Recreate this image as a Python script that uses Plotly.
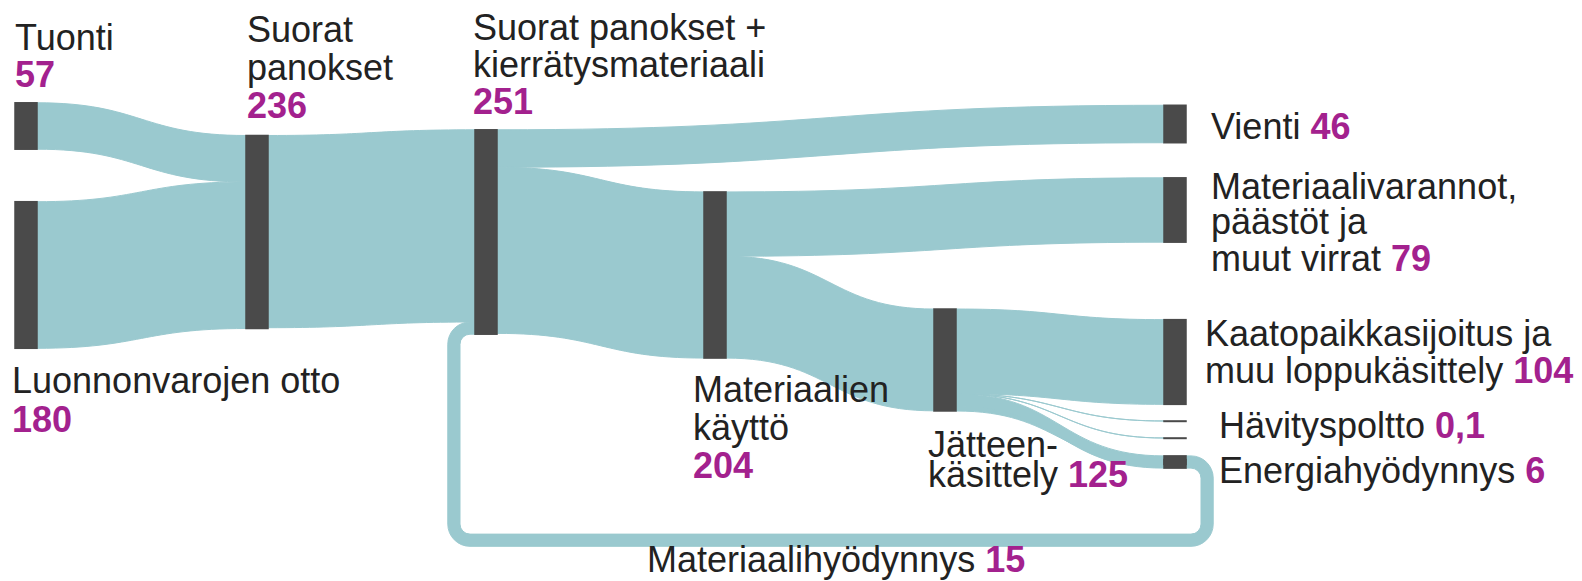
import plotly.graph_objects as go

W, H = 1582, 581
HD = 540  # sankey domain height in px (from the top)

# ---- data ----
node_names = [
    "Tuonti", "Luonnonvarojen otto", "Suorat panokset",
    "Suorat panokset + kierrätysmateriaali", "Materiaalien käyttö",
    "Jätteenkäsittely", "Vienti", "Materiaalivarannot, päästöt ja muut virrat",
    "Kaatopaikkasijoitus ja muu loppukäsittely", "Hävityspoltto", "",
    "Energiahyödynnys", "Materiaalihyödynnys",
]

link_source = [0, 1, 2, 3, 3, 4, 4, 5, 5, 5, 5, 5, 12]
link_target = [2, 2, 3, 6, 4, 7, 5, 8, 9, 10, 11, 12, 3]
link_value = [57, 180, 236, 46, 204, 79, 125, 104, 0.1, 0.1, 6, 15, 15]

# ---- layout (node centres in pixels) ----
node_px_x = [26, 26, 257, 486, 715, 945, 1175, 1175, 1175, 1175, 1175, 1175, 1175]
node_px_y = [126, 275, 232, 232, 275, 360, 124, 210, 362, 421, 438, 462, 462]
OFF_X, OFF_Y = 8, 8

NUM = "#a3218e"
TXT = "#222222"
FONT = "Liberation Sans, Arial, sans-serif"
FS = 36


def num(v):
    return f"<b><span style='color:{NUM}'>{v}</span></b>"


# label lines: (text, left px, baseline px)
label_lines = [
    ("Tuonti", 15, 50), (num("57"), 15, 87),
    ("Suorat", 247, 43), ("panokset", 247, 80), (num("236"), 247, 118),
    ("Suorat panokset +", 473, 40), ("kierrätysmateriaali", 473, 78), (num("251"), 473, 115),
    ("Luonnonvarojen otto", 12, 393), (num("180"), 12, 432),
    ("Materiaalien", 693, 402), ("käyttö", 693, 440), (num("204"), 693, 478),
    ("Jätteen-", 928, 457), ("käsittely " + num("125"), 928, 487),
    ("Vienti " + num("46"), 1211, 139),
    ("Materiaalivarannot,", 1211, 199), ("päästöt ja", 1211, 235),
    ("muut virrat " + num("79"), 1211, 271),
    ("Kaatopaikkasijoitus ja", 1205, 346), ("muu loppukäsittely " + num("104"), 1205, 383),
    ("Hävityspoltto " + num("0,1"), 1219, 438),
    ("Energiahyödynnys " + num("6"), 1219, 483),
    ("Materiaalihyödynnys " + num("15"), 647, 572),
]

fig = go.Figure(go.Sankey(
    arrangement="fixed",
    domain=dict(x=[0, 1], y=[1 - HD / H, 1]),
    node=dict(
        label=node_names,
        x=[max((v - OFF_X) / W, 0.001) for v in node_px_x],
        y=[max((v - OFF_Y) / HD, 0.001) for v in node_px_y],
        pad=26,
        thickness=22,
        color="#4a4a4a",
        line=dict(width=1.5, color="#4a4a4a"),
    ),
    link=dict(
        source=link_source,
        target=link_target,
        value=link_value,
        color="rgba(154,201,207,1)",
        line=dict(color="rgba(154,201,207,1)", width=1),
    ),
    textfont=dict(color="rgba(0,0,0,0)", size=1),
))

for text, lx, base in label_lines:
    fig.add_annotation(
        text=text, x=(lx - 10) / W, y=1 - (base - 21) / H,
        xref="paper", yref="paper", xanchor="left", yanchor="middle",
        showarrow=False, align="left",
        font=dict(family=FONT, size=FS, color=TXT),
    )

fig.update_layout(
    width=W, height=H,
    margin=dict(l=0, r=0, t=0, b=0),
    paper_bgcolor="white", plot_bgcolor="white",
)

fig.write_html("out.html")
